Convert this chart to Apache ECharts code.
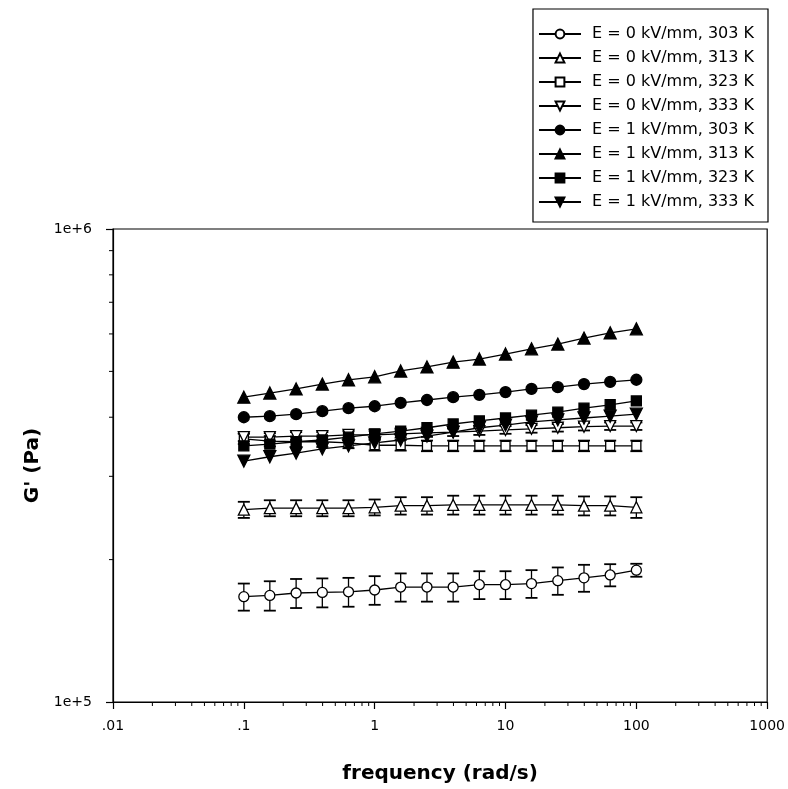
<!DOCTYPE html>
<html>
<head>
<meta charset="utf-8">
<title>Storage modulus vs frequency</title>
<script src="https://cdn.jsdelivr.net/npm/echarts@6/dist/echarts.min.js"></script>
<style>
  html, body { margin: 0; padding: 0; background: #fff; }
  #chart { width: 788px; height: 789px; }
</style>
</head>
<body>
<div id="chart"></div>
<script>
// Angular frequency (rad/s)
const frequency = [0.1, 0.158, 0.251, 0.398, 0.631, 1, 1.58, 2.51, 3.98, 6.31, 10, 15.8, 25.1, 39.8, 63.1, 100];

// Storage modulus G' (Pa), no field
const g0_303 = [167000, 168000, 170000, 170500, 171000, 172500, 175000, 175000, 175000, 177000, 177000, 178000, 180500, 183000, 185600, 190000];
const g0_313 = [255000, 257000, 257000, 257000, 257000, 258000, 260000, 260000, 261000, 261000, 261000, 261000, 261000, 260000, 260000, 258000];
const g0_323 = [360000, 356000, 355000, 355000, 353000, 349000, 349000, 348000, 348000, 348000, 348000, 348000, 348000, 348000, 348000, 348000];
const g0_333 = [363000, 363000, 365000, 365000, 367000, 367000, 369000, 370500, 372000, 374000, 376000, 378000, 380000, 382000, 383000, 383000];

// Standard deviations of the no-field runs (Pa)
const err0_303 = [11000, 12000, 12000, 12000, 12000, 12000, 12000, 12000, 12000, 12000, 12000, 12000, 12000, 12000, 10000, 6000];
const err0_313 = [10000, 10000, 10000, 10000, 10000, 10000, 11000, 11000, 12000, 12000, 12000, 12000, 12000, 12000, 12000, 13000];
const err0_323 = [9000, 9000, 9000, 9000, 9000, 9000, 9000, 9000, 9000, 9000, 9000, 9000, 9000, 9000, 9000, 9000];
const err0_333 = [7000, 7000, 7000, 7000, 7000, 7000, 7000, 7000, 7000, 7000, 7000, 7000, 7000, 7000, 7000, 7000];

// Storage modulus G' (Pa), E = 1 kV/mm
const g1_303 = [400000, 402000, 406000, 412000, 418000, 422000, 429000, 435000, 441000, 446000, 452000, 459000, 463000, 470000, 475000, 480000];
const g1_313 = [441000, 450000, 459000, 470000, 480000, 487000, 501000, 511000, 523000, 531000, 544000, 558000, 571000, 588000, 603000, 615000];
const g1_323 = [348000, 351000, 355000, 358000, 363000, 369000, 374000, 380000, 387000, 393000, 398500, 404000, 410000, 418000, 425000, 433000];
const g1_333 = [323000, 330000, 336000, 343000, 348000, 353000, 358000, 365000, 372000, 380000, 385000, 391000, 395000, 398500, 402000, 406000];

const seriesNames = [
  'E = 0 kV/mm, 303 K', 'E = 0 kV/mm, 313 K', 'E = 0 kV/mm, 323 K', 'E = 0 kV/mm, 333 K',
  'E = 1 kV/mm, 303 K', 'E = 1 kV/mm, 313 K', 'E = 1 kV/mm, 323 K', 'E = 1 kV/mm, 333 K'
];

// Axis tick labels, keyed by decade exponent
const xTickLabels = { '-2': '.01', '-1': '.1', '0': '1', '1': '10', '2': '100', '3': '1000' };
const yTickLabels = { '5': '1e+5', '6': '1e+6' };
const xDecades = [0.01, 0.1, 1, 10, 100];
const yDecades = [100000];
const minorSteps = [2, 3, 4, 5, 6, 7, 8, 9];

const FONT = 'DejaVu Sans';
const downTriangle = 'path://M0,0 L10,0 L5,9 Z';
const upTriangle = 'path://M5,0 L10,9 L0,9 Z';

const markerDefs = [
  { symbol: 'circle', size: 10, filled: false },
  { symbol: upTriangle, size: 11, filled: false },
  { symbol: 'rect', size: 9, filled: false },
  { symbol: downTriangle, size: 11, filled: false },
  { symbol: 'circle', size: 11, filled: true },
  { symbol: upTriangle, size: 12, filled: true },
  { symbol: 'rect', size: 10, filled: true },
  { symbol: downTriangle, size: 12, filled: true }
];
const values = [g0_303, g0_313, g0_323, g0_333, g1_303, g1_313, g1_323, g1_333];
const errors = [err0_303, err0_313, err0_323, err0_333];

function pairs(ys) { return frequency.map((f, i) => [f, ys[i]]); }

// Vertical error bars with caps
function errorBarItem(params, api) {
  const x = api.value(0);
  const lo = api.coord([x, api.value(1)]);
  const hi = api.coord([x, api.value(2)]);
  const w = 6;
  return {
    type: 'group',
    children: [
      { type: 'line', shape: { x1: lo[0], y1: lo[1], x2: hi[0], y2: hi[1] }, style: { stroke: '#000', lineWidth: 1.3 } },
      { type: 'line', shape: { x1: hi[0] - w, y1: hi[1], x2: hi[0] + w, y2: hi[1] }, style: { stroke: '#000', lineWidth: 1.8 } },
      { type: 'line', shape: { x1: lo[0] - w, y1: lo[1], x2: lo[0] + w, y2: lo[1] }, style: { stroke: '#000', lineWidth: 1.8 } }
    ]
  };
}

// Log-decade minor ticks drawn outside the axes
const xMinor = [];
xDecades.forEach(d => minorSteps.forEach(m => xMinor.push([d * m, 100000])));
const yMinor = [];
yDecades.forEach(d => minorSteps.forEach(m => yMinor.push([0.01, d * m])));

const series = [];
errors.forEach((err, k) => {
  series.push({
    type: 'custom',
    name: 'err' + k,
    renderItem: errorBarItem,
    encode: { x: 0, y: [1, 2] },
    data: frequency.map((f, i) => [f, values[k][i] - err[i], values[k][i] + err[i]]),
    z: 1,
    silent: true
  });
});
values.forEach((ys, k) => {
  const m = markerDefs[k];
  series.push({
    type: 'line',
    name: seriesNames[k],
    data: pairs(ys),
    symbol: m.symbol,
    symbolSize: m.size,
    showAllSymbol: true,
    lineStyle: { color: '#000', width: 1.3 },
    itemStyle: { color: m.filled ? '#000' : '#fff', borderColor: '#000', borderWidth: 1.3 },
    z: 3,
    animation: false
  });
});
series.push({
  type: 'custom',
  name: 'xMinor',
  renderItem: (params, api) => {
    const p = api.coord([api.value(0), api.value(1)]);
    return { type: 'line', shape: { x1: p[0], y1: p[1], x2: p[0], y2: p[1] + 4 }, style: { stroke: '#000', lineWidth: 1 } };
  },
  encode: { x: 0, y: 1 },
  data: xMinor,
  clip: false,
  silent: true
});
series.push({
  type: 'custom',
  name: 'yMinor',
  renderItem: (params, api) => {
    const p = api.coord([api.value(0), api.value(1)]);
    return { type: 'line', shape: { x1: p[0] - 4, y1: p[1], x2: p[0], y2: p[1] }, style: { stroke: '#000', lineWidth: 1 } };
  },
  encode: { x: 0, y: 1 },
  data: yMinor,
  clip: false,
  silent: true
});

const chart = echarts.init(document.getElementById('chart'), null, { renderer: 'canvas' });
chart.setOption({
  animation: false,
  backgroundColor: '#fff',
  textStyle: { fontFamily: FONT, color: '#000' },
  grid: {
    left: 113, right: 20, top: 229, bottom: 87,
    show: true, borderColor: '#000', borderWidth: 1.2, backgroundColor: 'transparent'
  },
  legend: {
    data: seriesNames,
    orient: 'vertical',
    right: 20,
    top: 9,
    itemWidth: 42,
    itemHeight: 11,
    itemGap: 8,
    padding: [17, 14, 12, 5],
    borderColor: '#000',
    borderWidth: 1.2,
    backgroundColor: '#fff',
    textStyle: { fontFamily: FONT, fontSize: 16, color: '#000', padding: [0, 0, 0, 6] },
    selectedMode: false
  },
  xAxis: {
    type: 'log',
    logBase: 10,
    min: 0.01,
    max: 1000,
    splitNumber: 5,
    name: 'frequency (rad/s)',
    nameLocation: 'middle',
    nameGap: 62,
    nameTextStyle: { fontFamily: FONT, fontSize: 20, fontWeight: 'bold', color: '#000' },
    axisLine: { show: true, lineStyle: { color: '#000', width: 1.2 } },
    axisTick: { show: true, inside: false, length: 7, lineStyle: { color: '#000', width: 1.2 } },
    axisLabel: {
      margin: 17, fontSize: 14, fontFamily: FONT, color: '#000',
      formatter: v => xTickLabels[String(Math.round(Math.log10(v)))] || ''
    },
    splitLine: { show: false }
  },
  yAxis: {
    type: 'log',
    logBase: 10,
    min: 100000,
    max: 1000000,
    name: "G' (Pa)",
    nameLocation: 'middle',
    nameGap: 68,
    nameRotate: 90,
    nameTextStyle: { fontFamily: FONT, fontSize: 20, fontWeight: 'bold', color: '#000' },
    axisLine: { show: true, lineStyle: { color: '#000', width: 1.2 } },
    axisTick: { show: true, inside: false, length: 7, lineStyle: { color: '#000', width: 1.2 } },
    axisLabel: {
      margin: 21, fontSize: 14, fontFamily: FONT, color: '#000',
      formatter: v => yTickLabels[String(Math.round(Math.log10(v)))] || ''
    },
    splitLine: { show: false }
  },
  series: series
});
</script>
</body>
</html>
